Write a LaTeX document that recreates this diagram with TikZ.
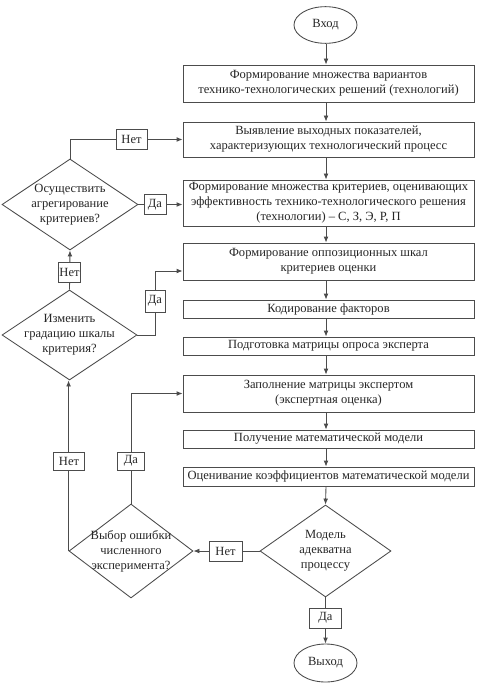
\documentclass[tikz,border=0pt]{standalone}
\usepackage{fontspec}
\setmainfont{Liberation Serif}
\usetikzlibrary{arrows.meta,shapes.geometric}
\begin{document}
\begin{tikzpicture}[x=0.75pt,y=-0.75pt,
  every node/.style={font=\fontsize{9.4}{11.25}\selectfont, text=black!85, align=center},
  ln/.style={draw=black!70, line width=0.65pt},
  arr/.style={ln, -{Latex[length=4.5pt,width=3.6pt]}},
  stepbox/.style={ln, rectangle, fill=white, minimum width=218.25pt, inner sep=0pt},
  term/.style={ln, ellipse, fill=white, minimum width=47.25pt, minimum height=27.5pt, inner sep=0pt},
  dia/.style={ln, diamond, fill=white, inner sep=0pt},
  lbl/.style={ln, rectangle, fill=white, inner sep=0pt, minimum height=15pt}
]
\useasboundingbox (0,0) rectangle (479,684);
\coordinate (cx) at (326,0);

\node[term] (in) at (325.5,25) {Вход};
\node[stepbox, minimum height=27.75pt] (b1) at (328.5,83.5) {Формирование множества вариантов\\технико-технологических решений (технологий)};
\node[stepbox, minimum height=26.25pt] (b2) at (328.5,139.5) {Выявление выходных показателей,\\характеризующих технологический процесс};
\node[stepbox, minimum height=34.5pt] (b3) at (328.5,203) {Формирование множества критериев, оценивающих\\эффективность технико-технологического решения\\(технологии) – С, З, Э, Р, П};
\node[stepbox, minimum height=27.75pt] (b4) at (328.5,261.5) {Формирование оппозиционных шкал\\критериев оценки};
\node[stepbox, minimum height=13.5pt] (b5) at (328.5,309) {Кодирование факторов};
\node[stepbox, minimum height=13.5pt] (b6) at (328.5,346) {Подготовка матрицы опроса эксперта};
\node[stepbox, minimum height=27.75pt] (b7) at (328.5,393.5) {Заполнение матрицы экспертом\\(экспертная оценка)};
\node[stepbox, minimum height=13.5pt] (b8) at (328.5,439) {Получение математической модели};
\node[stepbox, minimum height=14.25pt] (b9) at (328.5,476.5) {Оценивание коэффициентов математической модели};

\node[dia, minimum width=98.25pt, minimum height=69pt] (d4) at (325.5,551) {};
\node (d4t) at (d4) {Модель\\адекватна\\процессу};
\node[term, minimum height=28.5pt] (out) at (325.5,663) {Выход};

\node[dia, minimum width=102pt, minimum height=68.25pt] (d1) at (70,204.5) {};
\node (d1t) at (d1) {Осуществить\\агрегирование\\критериев?};
\node[dia, minimum width=101.25pt, minimum height=67.5pt] (d2) at (69.5,335) {};
\node (d2t) at (d2) {Изменить\\градацию шкалы\\критерия?};
\node[dia, minimum width=93pt, minimum height=70.5pt] (d3) at (131,551) {};
\node (d3t) at (d3) {Выбор ошибки\\численного\\эксперимента?};

% main chain
\draw[arr] (in.south -| cx) -- (b1.north -| cx);
\draw[arr] (b1.south -| cx) -- (b2.north -| cx);
\draw[arr] (b2.south -| cx) -- (b3.north -| cx);
\draw[arr] (b3.south -| cx) -- (b4.north -| cx);
\draw[arr] (b4.south -| cx) -- (b5.north -| cx);
\draw[arr] (b5.south -| cx) -- (b6.north -| cx);
\draw[arr] (b6.south -| cx) -- (b7.north -| cx);
\draw[arr] (b7.south -| cx) -- (b8.north -| cx);
\draw[arr] (b8.south -| cx) -- (b9.north -| cx);
\draw[arr] (b9.south -| cx) -- (d4.north);
\draw[arr] (d4.south) -- (out.north);

% feedback
\coordinate (c2) at (155,271);
\draw[arr] (d1.north) |- (b2.west);
\draw[arr] (d1.east) -- (d1.east -| b3.west);
\draw[arr] (d2.north) -- (d1.south);
\draw[arr] (d2.east) -| (c2) -- (c2 -| b4.west);
\draw[arr] (d3.west) -- (d3.west |- d2.south);
\draw[arr] (d3.north) |- (b7.west);
\draw[arr] (d4.west) -- (d3.east);

% labels
\node[lbl, minimum width=23.25pt] (l1) at (131.5,139.5) {Нет};
\node[lbl, minimum width=16.5pt] (l2) at (155,204.5) {Да};
\node[lbl, minimum width=16.5pt] (l3) at (69.5,272.5) {Нет};
\node[lbl, minimum width=15pt, minimum height=16.5pt] (l4) at (155,301) {Да};
\node[lbl, minimum width=23.25pt, minimum height=13.5pt] (l5) at (69,461) {Нет};
\node[lbl, minimum width=20.25pt, minimum height=13.5pt] (l6) at (131,461) {Да};
\node[lbl, minimum width=24.75pt] (l7) at (225.5,551) {Нет};
\node[lbl, minimum width=24pt] (l8) at (325.5,618) {Да};
\end{tikzpicture}
\end{document}
